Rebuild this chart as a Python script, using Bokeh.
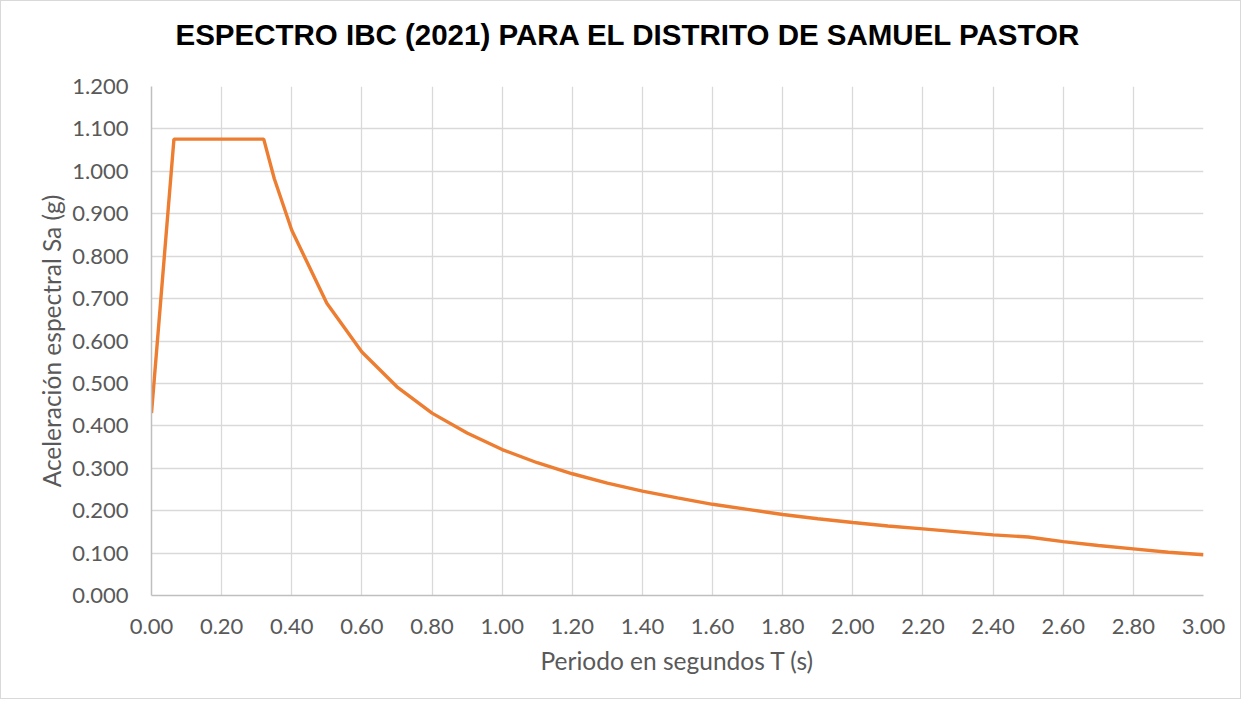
from bokeh.plotting import figure
from bokeh.models import Range1d, FixedTicker, NumeralTickFormatter, Title
from bokeh.embed import file_html
from bokeh.resources import INLINE

# Data
periodo = [0.00, 0.064, 0.10, 0.20, 0.30, 0.32, 0.35, 0.40, 0.50, 0.60, 0.70, 0.80, 0.90,
           1.00, 1.10, 1.20, 1.30, 1.40, 1.50, 1.60, 1.70, 1.80, 1.90, 2.00, 2.10,
           2.20, 2.30, 2.40, 2.50, 2.60, 2.70, 2.80, 2.90, 3.00]
sa = [0.430, 1.076, 1.076, 1.076, 1.076, 1.076, 0.983, 0.861, 0.689, 0.574, 0.492, 0.430, 0.383,
      0.344, 0.313, 0.287, 0.265, 0.246, 0.230, 0.215, 0.203, 0.191, 0.181, 0.172, 0.164,
      0.157, 0.150, 0.143, 0.138, 0.127, 0.118, 0.110, 0.102, 0.096]
x_ticks = [0.0, 0.2, 0.4, 0.6, 0.8, 1.0, 1.2, 1.4, 1.6, 1.8, 2.0, 2.2, 2.4, 2.6, 2.8, 3.0]
y_ticks = [0.0, 0.1, 0.2, 0.3, 0.4, 0.5, 0.6, 0.7, 0.8, 0.9, 1.0, 1.1, 1.2]

FONT = "Lato"
GRID = "#d9d9d9"
TXT = "#595959"

p = figure(width=1241, height=699, output_backend="svg", toolbar_location=None,
           x_range=Range1d(0, 3), y_range=Range1d(0, 1.2),
           min_border_left=150, min_border_right=39, min_border_top=85, min_border_bottom=105)

# invisible spacer panel between the frame and the title
p.add_layout(Title(text=" ", text_font_size="10px", standoff=16, text_color="#ffffff"), "above")
p.add_layout(Title(text="ESPECTRO IBC (2021) PARA EL DISTRITO DE SAMUEL PASTOR",
                   text_font="Liberation Sans", text_font_style="bold", text_font_size="29.5px",
                   text_color="#000000", align="left", offset=24, standoff=10,
                   vertical_align="top"), "above")

p.line(periodo, sa, line_color="#ED7D31", line_width=3.4)

p.outline_line_color = None
p.styles = {"border": "1px solid #d9d9d9"}

for ax in (p.xaxis[0], p.yaxis[0]):
    ax.major_tick_line_color = None
    ax.minor_tick_line_color = None
    ax.major_label_text_font = FONT
    ax.major_label_text_font_size = "22px"
    ax.major_label_text_color = TXT
    ax.axis_label_text_font = FONT
    ax.axis_label_text_font_size = "24.5px"
    ax.axis_label_text_font_style = "normal"
    ax.axis_label_text_color = TXT
    ax.axis_line_color = "#bfbfbf"
    ax.axis_line_width = 1.5

p.xaxis.ticker = FixedTicker(ticks=x_ticks)
p.yaxis.ticker = FixedTicker(ticks=y_ticks)
p.xaxis.formatter = NumeralTickFormatter(format="0.00")
p.yaxis.formatter = NumeralTickFormatter(format="0.000")
p.xaxis.axis_label = "Periodo en segundos T (s)"
p.yaxis.axis_label = "Aceleración espectral Sa (g)"
p.xaxis.major_label_standoff = 17
p.yaxis.major_label_standoff = 17
p.xaxis.axis_label_standoff = 9
p.yaxis.axis_label_standoff = 3

p.xgrid.grid_line_color = GRID
p.ygrid.grid_line_color = GRID
p.xgrid.grid_line_width = 1.3
p.ygrid.grid_line_width = 1.3

open("out.html", "w").write(file_html(p, INLINE))
